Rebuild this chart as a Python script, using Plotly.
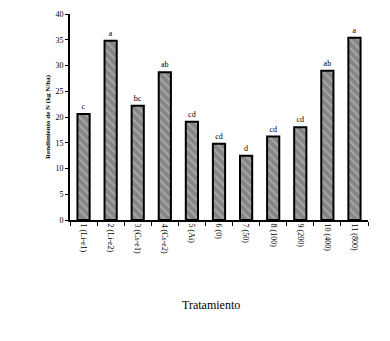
import plotly.graph_objects as go

categories = ["1 (Li-e1)", "2 (Li-e2)", "3 (Cs-e1)", "4 (Cs-e2)", "5 (Ai)", "6 (0)",
              "7 (50)", "8 (100)", "9 (200)", "10 (400)", "11 (800)"]
values = [20.6, 34.8, 22.2, 28.7, 19.1, 14.8, 12.5, 16.2, 18.0, 29.0, 35.4]
letters = ["c", "a", "bc", "ab", "cd", "cd", "d", "cd", "cd", "ab", "a"]
y_ticks = [0, 5, 10, 15, 20, 25, 30, 35, 40]

font = "Liberation Serif, Times New Roman, serif"

fig = go.Figure(go.Bar(
    x=categories, y=values, text=letters, textposition="outside",
    outsidetextfont=dict(family=font, size=8, color="black"),
    cliponaxis=False, width=0.45,
    marker=dict(color="#858585", line=dict(color="black", width=2),
                pattern=dict(shape="\\", fgcolor="#c8c8c8", size=6, solidity=0.35)),
))

fig.add_annotation(text="Tratamiento", x=0.473, y=0, xref="paper", yref="paper",
                   yshift=-85, showarrow=False, yanchor="middle",
                   font=dict(family=font, size=12, color="black"))

fig.update_layout(
    width=382, height=333, margin=dict(l=62, r=22, t=6, b=121, autoexpand=False),
    paper_bgcolor="white", plot_bgcolor="white", showlegend=False,
    font=dict(family=font, size=8, color="black"),
    xaxis=dict(showline=True, linecolor="black", linewidth=2, ticks="outside",
               tickson="boundaries", ticklen=4, tickwidth=1, tickcolor="black",
               tickangle=90, tickfont=dict(size=8), automargin=False),
    yaxis=dict(range=[0, 40], tickvals=y_ticks, showline=True, linecolor="black",
               linewidth=2, ticks="outside", ticklen=3, tickcolor="black",
               showgrid=False, zeroline=False, tickfont=dict(size=8), automargin=False,
               title=dict(text="<b>Rendimiento de N (kg N/ha)</b>", font=dict(size=7), standoff=4)),
    bargap=0.5,
)

fig.write_html("out.html")
